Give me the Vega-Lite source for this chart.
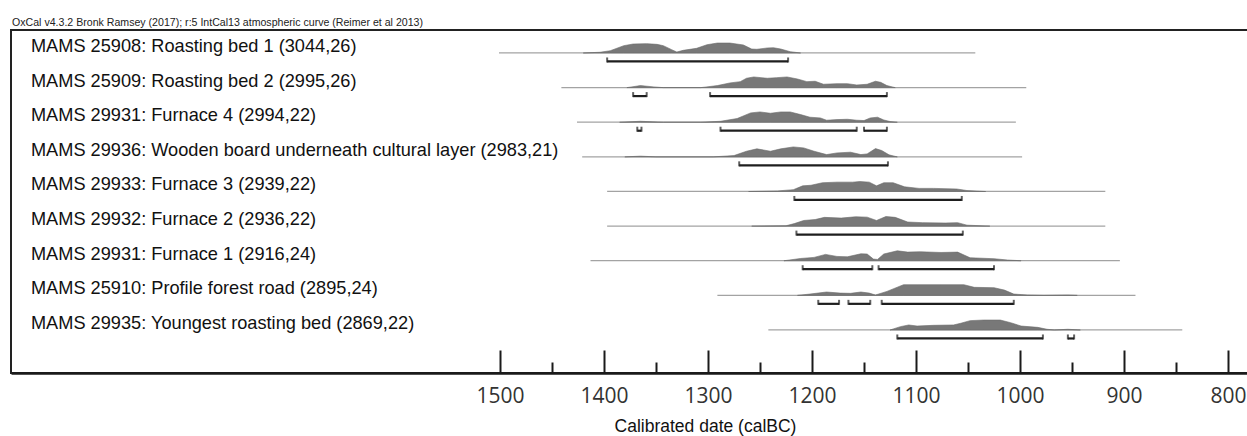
{
  "$schema": "https://vega.github.io/schema/vega-lite/v6.json",
  "autosize": "none",
  "width": 1237,
  "height": 343,
  "padding": {"left": 11, "top": 30, "right": 0, "bottom": 63},
  "background": "white",
  "title": {"text": "OxCal v4.3.2 Bronk Ramsey (2017); r:5 IntCal13 atmospheric curve (Reimer et al 2013)", "anchor": "start", "frame": "group", "fontSize": 10.6, "font": "Liberation Sans", "fontWeight": "normal", "color": "#222", "offset": 1, "dx": 1},
  "config": {"view": {"stroke": "#222", "strokeWidth": 2}, "font": "Liberation Sans", "area": {"color": "#787878", "stroke": "#6a6a6a", "strokeWidth": 0.6}},
  "datasets": {
    "dens": [
      {"id":"r1","year":1420,"p":0},{"id":"r1","year":1404,"p":0.06},{"id":"r1","year":1394,"p":0.19},{"id":"r1","year":1381,"p":0.61},{"id":"r1","year":1372,"p":0.75},{"id":"r1","year":1359,"p":0.78},{"id":"r1","year":1349,"p":0.72},{"id":"r1","year":1343,"p":0.61},{"id":"r1","year":1335,"p":0.28},{"id":"r1","year":1330,"p":0.08},{"id":"r1","year":1324,"p":0.22},{"id":"r1","year":1311,"p":0.39},{"id":"r1","year":1301,"p":0.69},{"id":"r1","year":1291,"p":0.83},{"id":"r1","year":1279,"p":0.83},{"id":"r1","year":1266,"p":0.67},{"id":"r1","year":1258,"p":0.33},{"id":"r1","year":1253,"p":0.31},{"id":"r1","year":1243,"p":0.42},{"id":"r1","year":1237,"p":0.44},{"id":"r1","year":1230,"p":0.33},{"id":"r1","year":1221,"p":0.11},{"id":"r1","year":1211,"p":0},
      {"id":"r2","year":1378,"p":0},{"id":"r2","year":1365,"p":0.17},{"id":"r2","year":1352,"p":0.06},{"id":"r2","year":1343,"p":0},{"id":"r2","year":1307,"p":0},{"id":"r2","year":1291,"p":0.17},{"id":"r2","year":1279,"p":0.39},{"id":"r2","year":1269,"p":0.5},{"id":"r2","year":1263,"p":0.78},{"id":"r2","year":1256,"p":0.89},{"id":"r2","year":1243,"p":0.78},{"id":"r2","year":1234,"p":0.83},{"id":"r2","year":1224,"p":0.89},{"id":"r2","year":1214,"p":0.72},{"id":"r2","year":1205,"p":0.5},{"id":"r2","year":1197,"p":0.53},{"id":"r2","year":1189,"p":0.28},{"id":"r2","year":1176,"p":0.33},{"id":"r2","year":1166,"p":0.33},{"id":"r2","year":1157,"p":0.22},{"id":"r2","year":1147,"p":0.28},{"id":"r2","year":1139,"p":0.53},{"id":"r2","year":1134,"p":0.44},{"id":"r2","year":1128,"p":0.17},{"id":"r2","year":1120,"p":0},
      {"id":"r3","year":1385,"p":0},{"id":"r3","year":1365,"p":0.08},{"id":"r3","year":1343,"p":0},{"id":"r3","year":1307,"p":0},{"id":"r3","year":1288,"p":0.08},{"id":"r3","year":1272,"p":0.31},{"id":"r3","year":1259,"p":0.78},{"id":"r3","year":1250,"p":0.86},{"id":"r3","year":1240,"p":0.75},{"id":"r3","year":1230,"p":0.86},{"id":"r3","year":1221,"p":0.86},{"id":"r3","year":1211,"p":0.64},{"id":"r3","year":1202,"p":0.42},{"id":"r3","year":1192,"p":0.36},{"id":"r3","year":1186,"p":0.17},{"id":"r3","year":1176,"p":0.22},{"id":"r3","year":1166,"p":0.25},{"id":"r3","year":1157,"p":0.17},{"id":"r3","year":1150,"p":0.14},{"id":"r3","year":1144,"p":0.36},{"id":"r3","year":1137,"p":0.42},{"id":"r3","year":1131,"p":0.19},{"id":"r3","year":1125,"p":0.06},{"id":"r3","year":1118,"p":0},
      {"id":"r4","year":1380,"p":0},{"id":"r4","year":1365,"p":0.06},{"id":"r4","year":1350,"p":0},{"id":"r4","year":1295,"p":0},{"id":"r4","year":1275,"p":0.11},{"id":"r4","year":1263,"p":0.47},{"id":"r4","year":1253,"p":0.67},{"id":"r4","year":1240,"p":0.47},{"id":"r4","year":1230,"p":0.67},{"id":"r4","year":1218,"p":0.83},{"id":"r4","year":1208,"p":0.75},{"id":"r4","year":1198,"p":0.47},{"id":"r4","year":1186,"p":0.19},{"id":"r4","year":1176,"p":0.33},{"id":"r4","year":1163,"p":0.39},{"id":"r4","year":1153,"p":0.19},{"id":"r4","year":1147,"p":0.25},{"id":"r4","year":1139,"p":0.69},{"id":"r4","year":1133,"p":0.53},{"id":"r4","year":1126,"p":0.17},{"id":"r4","year":1118,"p":0},
      {"id":"r5","year":1261,"p":0},{"id":"r5","year":1233,"p":0.05},{"id":"r5","year":1218,"p":0.15},{"id":"r5","year":1209,"p":0.47},{"id":"r5","year":1201,"p":0.52},{"id":"r5","year":1190,"p":0.73},{"id":"r5","year":1176,"p":0.78},{"id":"r5","year":1161,"p":0.78},{"id":"r5","year":1154,"p":0.83},{"id":"r5","year":1145,"p":0.78},{"id":"r5","year":1138,"p":0.47},{"id":"r5","year":1131,"p":0.73},{"id":"r5","year":1122,"p":0.73},{"id":"r5","year":1111,"p":0.39},{"id":"r5","year":1097,"p":0.26},{"id":"r5","year":1083,"p":0.26},{"id":"r5","year":1061,"p":0.21},{"id":"r5","year":1051,"p":0.08},{"id":"r5","year":1033,"p":0},
      {"id":"r6","year":1258,"p":0},{"id":"r6","year":1225,"p":0.03},{"id":"r6","year":1217,"p":0.21},{"id":"r6","year":1208,"p":0.47},{"id":"r6","year":1197,"p":0.55},{"id":"r6","year":1188,"p":0.73},{"id":"r6","year":1172,"p":0.67},{"id":"r6","year":1158,"p":0.78},{"id":"r6","year":1147,"p":0.75},{"id":"r6","year":1138,"p":0.47},{"id":"r6","year":1129,"p":0.8},{"id":"r6","year":1120,"p":0.73},{"id":"r6","year":1108,"p":0.34},{"id":"r6","year":1094,"p":0.29},{"id":"r6","year":1072,"p":0.26},{"id":"r6","year":1060,"p":0.29},{"id":"r6","year":1051,"p":0.08},{"id":"r6","year":1029,"p":0},
      {"id":"r7","year":1227,"p":0},{"id":"r7","year":1211,"p":0.19},{"id":"r7","year":1198,"p":0.28},{"id":"r7","year":1187,"p":0.53},{"id":"r7","year":1176,"p":0.36},{"id":"r7","year":1166,"p":0.33},{"id":"r7","year":1153,"p":0.58},{"id":"r7","year":1147,"p":0.56},{"id":"r7","year":1141,"p":0.14},{"id":"r7","year":1137,"p":0.11},{"id":"r7","year":1131,"p":0.56},{"id":"r7","year":1118,"p":0.83},{"id":"r7","year":1108,"p":0.72},{"id":"r7","year":1096,"p":0.75},{"id":"r7","year":1076,"p":0.69},{"id":"r7","year":1060,"p":0.72},{"id":"r7","year":1048,"p":0.25},{"id":"r7","year":1025,"p":0.17},{"id":"r7","year":1012,"p":0.06},{"id":"r7","year":999,"p":0},
      {"id":"r8","year":1214,"p":0},{"id":"r8","year":1202,"p":0.11},{"id":"r8","year":1186,"p":0.28},{"id":"r8","year":1173,"p":0.19},{"id":"r8","year":1163,"p":0.17},{"id":"r8","year":1153,"p":0.28},{"id":"r8","year":1145,"p":0.19},{"id":"r8","year":1139,"p":0.03},{"id":"r8","year":1128,"p":0.33},{"id":"r8","year":1112,"p":0.89},{"id":"r8","year":1099,"p":0.89},{"id":"r8","year":1076,"p":0.89},{"id":"r8","year":1054,"p":0.89},{"id":"r8","year":1044,"p":0.67},{"id":"r8","year":1025,"p":0.64},{"id":"r8","year":1015,"p":0.44},{"id":"r8","year":1006,"p":0.11},{"id":"r8","year":993,"p":0.03},{"id":"r8","year":977,"p":0},{"id":"r8","year":954,"p":0.03},{"id":"r8","year":945,"p":0},
      {"id":"r9","year":1125,"p":0},{"id":"r9","year":1115,"p":0.28},{"id":"r9","year":1107,"p":0.42},{"id":"r9","year":1099,"p":0.33},{"id":"r9","year":1083,"p":0.39},{"id":"r9","year":1064,"p":0.42},{"id":"r9","year":1057,"p":0.56},{"id":"r9","year":1048,"p":0.78},{"id":"r9","year":1035,"p":0.83},{"id":"r9","year":1019,"p":0.83},{"id":"r9","year":1009,"p":0.61},{"id":"r9","year":999,"p":0.33},{"id":"r9","year":983,"p":0.22},{"id":"r9","year":974,"p":0.06},{"id":"r9","year":967,"p":0},{"id":"r9","year":954,"p":0.06},{"id":"r9","year":942,"p":0}
    ],
    "base": [
      {"id":"r1","label":"MAMS 25908: Roasting bed 1 (3044,26)","start":1501,"end":1043},
      {"id":"r2","label":"MAMS 25909: Roasting bed 2 (2995,26)","start":1441,"end":994},
      {"id":"r3","label":"MAMS 29931: Furnace 4 (2994,22)","start":1426,"end":1004},
      {"id":"r4","label":"MAMS 29936: Wooden board underneath cultural layer (2983,21)","start":1421,"end":998},
      {"id":"r5","label":"MAMS 29933: Furnace 3 (2939,22)","start":1397,"end":918},
      {"id":"r6","label":"MAMS 29932: Furnace 2 (2936,22)","start":1397,"end":918},
      {"id":"r7","label":"MAMS 29931: Furnace 1 (2916,24)","start":1413,"end":904},
      {"id":"r8","label":"MAMS 25910: Profile forest road (2895,24)","start":1291,"end":889},
      {"id":"r9","label":"MAMS 29935: Youngest roasting bed (2869,22)","start":1242,"end":844}
    ],
    "hpd": [
      {"id":"r1","from":1397,"to":1223},
      {"id":"r2","from":1372,"to":1359},{"id":"r2","from":1298,"to":1128},
      {"id":"r3","from":1368,"to":1364},{"id":"r3","from":1288,"to":1157},{"id":"r3","from":1150,"to":1128},
      {"id":"r4","from":1270,"to":1127},
      {"id":"r5","from":1217,"to":1056},
      {"id":"r6","from":1215,"to":1055},
      {"id":"r7","from":1209,"to":1142},{"id":"r7","from":1136,"to":1025},
      {"id":"r8","from":1194,"to":1174},{"id":"r8","from":1165,"to":1144},{"id":"r8","from":1133,"to":1006},
      {"id":"r9","from":1118,"to":978},{"id":"r9","from":954,"to":948}
    ]
  },
  "encoding": {
    "x": {"type": "quantitative", "scale": {"domain": [1970.2, 780.8], "nice": false, "zero": false},
      "axis": {"title": "Calibrated date (calBC)", "values": [1500,1450,1400,1350,1300,1250,1200,1150,1100,1050,1000,950,900,850,800],
        "format": "d", "labelExpr": "datum.value % 100 === 0 ? datum.label : ''",
        "tickSize": {"condition": {"test": "datum.value % 100 === 0", "value": -23}, "value": -11},
        "tickWidth": 2, "tickColor": "#1a1a1a", "domainColor": "#1a1a1a", "domainWidth": 2.5,
        "labelFont": "Open Sans", "labelFontSize": 21, "labelColor": "#333", "labelPadding": 35, "labelFlush": false, "labelOverlap": false,
        "titleFont": "Liberation Sans", "titleFontSize": 17.5, "titleFontWeight": "normal", "titleColor": "#111", "titleX": 694, "titleY": 53, "titleAnchor": "middle", "titleAlign": "center", "titleBaseline": "middle",
        "grid": false}}
  },
  "resolve": {"scale": {"y": "independent"}},
  "layer": [
    {"data": {"name": "base"}, "mark": {"type": "rule", "color": "#a3a3a3", "strokeWidth": 1.3},
      "encoding": {"x": {"field": "start", "type": "quantitative"}, "x2": {"field": "end"},
        "y": {"field": "id", "type": "ordinal", "scale": {"type": "point", "padding": 0.953, "align": 0.348}, "axis": null}}},
    {"data": {"name": "dens"}, "transform": [{"filter": "datum.id === 'r1'"}], "mark": "area",
      "encoding": {"x": {"field": "year", "type": "quantitative"}, "y": {"field": "p", "type": "quantitative", "scale": {"domain": [-26.6667, 1.9167], "nice": false, "zero": false}, "axis": null}}},
    {"data": {"name": "dens"}, "transform": [{"filter": "datum.id === 'r2'"}], "mark": "area",
      "encoding": {"x": {"field": "year", "type": "quantitative"}, "y": {"field": "p", "type": "quantitative", "scale": {"domain": [-23.7813, 4.8021], "nice": false, "zero": false}, "axis": null}}},
    {"data": {"name": "dens"}, "transform": [{"filter": "datum.id === 'r3'"}], "mark": "area",
      "encoding": {"x": {"field": "year", "type": "quantitative"}, "y": {"field": "p", "type": "quantitative", "scale": {"domain": [-20.8958, 7.6875], "nice": false, "zero": false}, "axis": null}}},
    {"data": {"name": "dens"}, "transform": [{"filter": "datum.id === 'r4'"}], "mark": "area",
      "encoding": {"x": {"field": "year", "type": "quantitative"}, "y": {"field": "p", "type": "quantitative", "scale": {"domain": [-18.0104, 10.5729], "nice": false, "zero": false}, "axis": null}}},
    {"data": {"name": "dens"}, "transform": [{"filter": "datum.id === 'r5'"}], "mark": "area",
      "encoding": {"x": {"field": "year", "type": "quantitative"}, "y": {"field": "p", "type": "quantitative", "scale": {"domain": [-15.125, 13.4583], "nice": false, "zero": false}, "axis": null}}},
    {"data": {"name": "dens"}, "transform": [{"filter": "datum.id === 'r6'"}], "mark": "area",
      "encoding": {"x": {"field": "year", "type": "quantitative"}, "y": {"field": "p", "type": "quantitative", "scale": {"domain": [-12.2396, 16.3438], "nice": false, "zero": false}, "axis": null}}},
    {"data": {"name": "dens"}, "transform": [{"filter": "datum.id === 'r7'"}], "mark": "area",
      "encoding": {"x": {"field": "year", "type": "quantitative"}, "y": {"field": "p", "type": "quantitative", "scale": {"domain": [-9.3542, 19.2292], "nice": false, "zero": false}, "axis": null}}},
    {"data": {"name": "dens"}, "transform": [{"filter": "datum.id === 'r8'"}], "mark": "area",
      "encoding": {"x": {"field": "year", "type": "quantitative"}, "y": {"field": "p", "type": "quantitative", "scale": {"domain": [-6.4688, 22.1146], "nice": false, "zero": false}, "axis": null}}},
    {"data": {"name": "dens"}, "transform": [{"filter": "datum.id === 'r9'"}], "mark": "area",
      "encoding": {"x": {"field": "year", "type": "quantitative"}, "y": {"field": "p", "type": "quantitative", "scale": {"domain": [-3.5833, 25], "nice": false, "zero": false}, "axis": null}}},
    {"data": {"name": "base"}, "mark": {"type": "text", "align": "left", "baseline": "middle", "dy": -6, "fontSize": 18.2, "font": "Liberation Sans", "color": "#111"},
      "encoding": {"x": {"datum": 1951, "type": "quantitative"}, "text": {"field": "label"},
        "y": {"field": "id", "type": "ordinal", "scale": {"type": "point", "padding": 0.953, "align": 0.348}, "axis": null}}},
    {"data": {"name": "hpd"}, "mark": {"type": "rule", "color": "#1e1e1e", "strokeWidth": 2.2, "yOffset": 8.5},
      "encoding": {"x": {"field": "from", "type": "quantitative"}, "x2": {"field": "to"},
        "y": {"field": "id", "type": "ordinal", "scale": {"type": "point", "padding": 0.953, "align": 0.348}, "axis": null}}},
    {"data": {"name": "hpd"}, "mark": {"type": "tick", "orient": "vertical", "color": "#1e1e1e", "size": 5, "thickness": 2, "yOffset": 7},
      "encoding": {"x": {"field": "from", "type": "quantitative"},
        "y": {"field": "id", "type": "ordinal", "scale": {"type": "point", "padding": 0.953, "align": 0.348}, "axis": null}}},
    {"data": {"name": "hpd"}, "mark": {"type": "tick", "orient": "vertical", "color": "#1e1e1e", "size": 5, "thickness": 2, "yOffset": 7},
      "encoding": {"x": {"field": "to", "type": "quantitative"},
        "y": {"field": "id", "type": "ordinal", "scale": {"type": "point", "padding": 0.953, "align": 0.348}, "axis": null}}}
  ]
}
